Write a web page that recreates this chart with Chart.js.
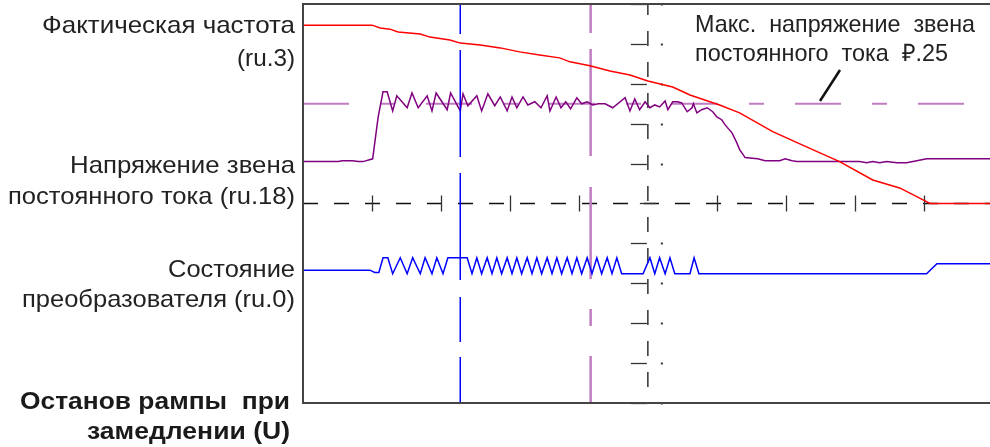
<!DOCTYPE html>
<html>
<head>
<meta charset="utf-8">
<script src="https://cdn.jsdelivr.net/npm/chart.js@4.4.1/dist/chart.umd.min.js"></script>
<style>
  html, body { margin: 0; padding: 0; background: #fff; overflow: hidden; }
  #wrap { width: 990px; height: 447px; }
</style>
</head>
<body>
<div id="wrap"><canvas id="scope" width="990" height="447"></canvas></div>
<script>
// time and level are in screen divisions of the scope (x: 0..~10, y: 0..10)
const timeSpan = 9.96;
const xDivisions = [1, 2, 3, 4, 6, 7, 8, 9];
const yDivisions = [0, 1, 2, 3, 4, 6, 7, 8, 9, 10];

// Фактическая частота (ru.3)
const freqTrace = [[0,9.47],[1.0,9.47],[1.12,9.40],[1.26,9.37],[1.38,9.30],[1.70,9.25],[1.84,9.17],[2.13,9.10],
  [2.28,9.02],[2.57,8.97],[2.86,8.90],[3.14,8.80],[3.43,8.72],[3.72,8.65],[3.87,8.55],[4.16,8.45],[4.45,8.32],
  [4.74,8.22],[5.0,8.07],[5.36,7.92],[5.61,7.72],[6.04,7.47],[6.33,7.27],[6.81,6.80],[7.30,6.42],[7.78,6.05],
  [8.26,5.59],[8.65,5.39],[8.99,5.09],[9.09,5.0],[9.96,5.0]];

// Напряжение звена постоянного тока (ru.18)
const dcLinkTrace = [[0,6.05],[0.51,6.05],[0.57,6.07],[0.72,6.07],[0.80,6.05],[0.87,6.05],[1.01,6.12],[1.09,7.17],
  [1.16,7.80],[1.22,7.80],[1.30,7.32],[1.36,7.70],[1.51,7.40],[1.58,7.77],[1.67,7.40],[1.80,7.70],[1.87,7.32],
  [1.93,7.77],[2.09,7.35],[2.14,7.77],[2.28,7.32],[2.32,7.75],[2.39,7.45],[2.52,7.70],[2.59,7.32],[2.68,7.75],
  [2.78,7.45],[2.86,7.67],[2.96,7.32],[3.03,7.67],[3.10,7.40],[3.19,7.67],[3.26,7.47],[3.36,7.55],[3.45,7.40],
  [3.54,7.70],[3.58,7.32],[3.67,7.67],[3.74,7.40],[3.81,7.55],[3.88,7.37],[3.97,7.65],[4.04,7.50],[4.12,7.55],
  [4.20,7.47],[4.28,7.50],[4.38,7.50],[4.49,7.40],[4.67,7.65],[4.74,7.32],[4.81,7.62],[4.88,7.35],[4.96,7.55],
  [5.03,7.40],[5.10,7.47],[5.17,7.42],[5.25,7.57],[5.29,7.35],[5.36,7.55],[5.43,7.55],[5.49,7.52],[5.57,7.30],
  [5.64,7.40],[5.66,7.50],[5.71,7.27],[5.78,7.35],[5.86,7.40],[5.94,7.30],[6.00,7.17],[6.07,7.10],[6.12,6.97],
  [6.22,6.77],[6.29,6.52],[6.33,6.35],[6.41,6.15],[6.59,6.12],[6.70,6.07],[6.91,6.07],[6.99,6.12],[7.09,6.07],
  [7.16,6.05],[7.97,6.05],[8.07,6.05],[8.17,6.02],[8.26,6.05],[8.36,6.02],[8.46,6.05],[8.61,6.02],[8.75,6.02],
  [8.90,6.07],[9.04,6.12],[9.96,6.12]];

// Состояние преобразователя (ru.0)
const stateTrace = [[0,3.33],[0.97,3.33],[1.04,3.27],[1.10,3.27],[1.16,3.64],[1.23,3.64],[1.30,3.24],[1.41,3.64],
  [1.51,3.24],[1.59,3.64],[1.70,3.24],[1.77,3.64],[1.87,3.24],[1.94,3.64],[2.03,3.24],[2.10,3.64],[2.38,3.64],
  [2.45,3.24],[2.52,3.64],[2.59,3.24],[2.67,3.64],[2.74,3.24],[2.81,3.64],[2.88,3.24],[2.96,3.64],[3.03,3.24],
  [3.10,3.64],[3.17,3.24],[3.25,3.64],[3.32,3.24],[3.39,3.64],[3.46,3.24],[3.54,3.64],[3.61,3.24],[3.68,3.64],
  [3.75,3.24],[3.83,3.64],[3.90,3.24],[3.97,3.64],[4.04,3.24],[4.12,3.64],[4.19,3.24],[4.26,3.64],[4.33,3.24],
  [4.41,3.64],[4.48,3.24],[4.55,3.64],[4.62,3.24],[4.93,3.24],[5.03,3.64],[5.10,3.24],[5.17,3.64],[5.25,3.24],
  [5.32,3.64],[5.39,3.24],[5.61,3.24],[5.67,3.64],[5.74,3.24],[9.04,3.24],[9.19,3.49],[9.96,3.49]];

const maxDcLevel = 7.5;      // P.25
const cursorTimes = [2.28, 4.17];

// text, baseline, width in the reference, bold
const leftLabels = [
  ['Фактическая частота', 33, 253, false],
  ['(ru.3)', 66, 58, false],
  ['Напряжение звена', 173, 225, false],
  ['постоянного тока (ru.18)', 204, 287, false],
  ['Состояние', 277, 127, false],
  ['преобразователя (ru.0)', 307, 273, false],
  ['Останов рампы  при', 409, 270, true],
  ['замедлении (U)', 439, 203, true]
];
const noteLines = [['Макс.  напряжение  звена', 32, 280], ['постоянного  тока  ₽.25', 61, 253]];

const pts = a => a.map(p => ({ x: p[0], y: p[1] }));

// draw text stretched horizontally to the given width
function stretchText(ctx, t, x, base, w, align) {
  const nat = ctx.measureText(t).width;
  const s = w / nat;
  ctx.save();
  ctx.translate(align === 'right' ? x - w : x, base);
  ctx.scale(s, 1);
  ctx.textAlign = 'left';
  ctx.fillText(t, 0, 0);
  ctx.restore();
}

const graticule = {
  id: 'graticule',
  beforeDatasetsDraw(chart) {
    const { ctx, chartArea: a, scales: { x, y } } = chart;
    const cx = x.getPixelForValue(5), cy = y.getPixelForValue(5);
    ctx.save();
    ctx.strokeStyle = '#111';
    ctx.lineWidth = 1.3;
    ctx.setLineDash([15, 16]);
    ctx.beginPath();
    ctx.moveTo(a.left, cy); ctx.lineTo(a.right, cy);
    ctx.stroke();
    ctx.lineDashOffset = 15;
    ctx.beginPath();
    ctx.moveTo(cx, a.bottom); ctx.lineTo(cx, a.top);
    ctx.stroke();
    ctx.setLineDash([]);
    ctx.strokeStyle = '#333';
    xDivisions.forEach(v => {
      const px = Math.round(x.getPixelForValue(v)) + 0.5;
      ctx.beginPath(); ctx.moveTo(px, cy - 8); ctx.lineTo(px, cy + 8); ctx.stroke();
    });
    ctx.fillStyle = '#333';
    yDivisions.forEach(v => {
      const py = Math.round(y.getPixelForValue(v)) + 0.5;
      ctx.beginPath(); ctx.moveTo(cx - 17, py); ctx.lineTo(cx - 1, py); ctx.stroke();
      ctx.fillRect(cx + 13, py - 1, 2, 2);
    });
    ctx.beginPath(); ctx.moveTo(cx - 8, cy); ctx.lineTo(cx + 8, cy); ctx.stroke();
    ctx.restore();
  },
  afterDatasetsDraw(chart) {
    const { ctx, chartArea: a } = chart;
    ctx.save();
    ctx.strokeStyle = '#444';
    ctx.lineWidth = 2;
    ctx.beginPath();
    ctx.moveTo(a.right + 2, a.top); ctx.lineTo(a.left, a.top);
    ctx.lineTo(a.left, a.bottom); ctx.lineTo(a.right + 2, a.bottom);
    ctx.stroke();
    ctx.restore();
  },
  afterDraw(chart) {
    const { ctx } = chart;
    ctx.save();
    ctx.textBaseline = 'alphabetic';
    leftLabels.forEach(([t, base, w, bold]) => {
      ctx.font = (bold ? 'bold ' : '') + '24px "Liberation Sans", Arial, sans-serif';
      ctx.fillStyle = bold ? '#1a1a1a' : '#222';
      stretchText(ctx, t, bold ? 290 : 295, base, w, 'right');
    });
    ctx.font = '24px "Liberation Sans", Arial, sans-serif';
    ctx.fillStyle = '#222';
    noteLines.forEach(([t, base, w]) => stretchText(ctx, t, 695, base, w, 'left'));
    ctx.strokeStyle = '#111';
    ctx.lineWidth = 2.5;
    ctx.beginPath(); ctx.moveTo(840, 70); ctx.lineTo(820, 101); ctx.stroke();
    ctx.restore();
  }
};

new Chart(document.getElementById('scope'), {
  type: 'scatter',
  data: {
    datasets: [
      { label: 'ru.3', data: pts(freqTrace), borderColor: '#ff0000', borderWidth: 1.5, order: 1 },
      { label: 'ru.18', data: pts(dcLinkTrace), borderColor: '#800080', borderWidth: 1.5, order: 2 },
      { label: 'ru.0', data: pts(stateTrace), borderColor: '#0000ff', borderWidth: 1.5, order: 3 },
      { label: 'P.25', data: [{ x: 0, y: maxDcLevel }, { x: timeSpan, y: maxDcLevel }],
        borderColor: '#c07cc0', borderWidth: 2, borderDash: [46, 31, 15, 31], order: 6 },
      { label: 'cursor 1', data: [{ x: cursorTimes[0], y: 10 }, { x: cursorTimes[0], y: 0 }],
        borderColor: '#0000ff', borderWidth: 1.5, borderDash: [30, 16, 107, 16, 107, 17, 45, 15, 50], order: 0 },
      { label: 'cursor 2', data: [{ x: cursorTimes[1], y: 10 }, { x: cursorTimes[1], y: 0 }],
        borderColor: '#c07cc0', borderWidth: 2.5, borderDash: [29, 16, 107, 31, 92, 30, 17, 30, 50], order: 5 }
    ].map(d => Object.assign({ showLine: true, pointRadius: 0, tension: 0, fill: false }, d))
  },
  options: {
    responsive: false,
    animation: false,
    layout: { padding: { left: 303, top: 4, right: 0, bottom: 44 } },
    plugins: { legend: { display: false }, tooltip: { enabled: false } },
    scales: {
      x: { type: 'linear', min: 0, max: timeSpan, display: false },
      y: { type: 'linear', min: 0, max: 10, display: false }
    }
  },
  plugins: [graticule]
});
</script>
</body>
</html>
